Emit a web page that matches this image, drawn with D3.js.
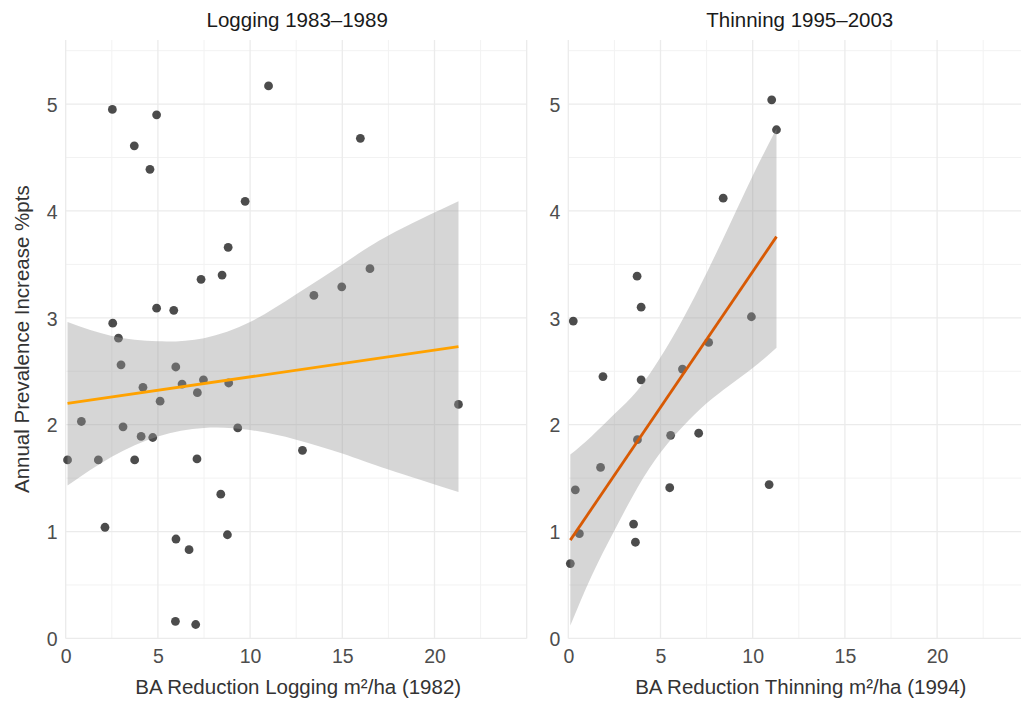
<!DOCTYPE html>
<html>
<head>
<meta charset="utf-8">
<script src="https://cdn.jsdelivr.net/npm/d3@7"></script>
<style>
  body { margin: 0; background: #fff; font-family: "Liberation Sans", Arial, sans-serif; }
</style>
</head>
<body>
<svg id="chart" width="1021" height="701"></svg>
<script>
// logging panel (1983-1989)
const loggingX = [2.53, 4.93, 3.72, 4.57, 11.0, 15.98, 9.73, 8.81, 7.34, 8.48,
    16.5, 13.46, 14.97, 4.93, 5.86, 2.55, 2.86, 3.0, 5.97, 4.19,
    6.31, 7.47, 8.84, 7.14, 5.12, 21.3, 0.85, 3.11, 9.33, 4.09,
    4.72, 0.1, 1.77, 3.74, 7.12, 12.84, 8.41, 2.13, 5.98, 8.77,
    6.69, 5.95, 7.05];
const loggingY = [4.95, 4.90, 4.61, 4.39, 5.17, 4.68, 4.09, 3.66, 3.36, 3.40,
    3.46, 3.21, 3.29, 3.09, 3.07, 2.95, 2.81, 2.56, 2.54, 2.35,
    2.38, 2.42, 2.39, 2.30, 2.22, 2.19, 2.03, 1.98, 1.97, 1.89,
    1.88, 1.67, 1.67, 1.67, 1.68, 1.76, 1.35, 1.04, 0.93, 0.97,
    0.83, 0.16, 0.13];
// fitted line and 95% band
const loggingFitX = [0.1, 21.3];
const loggingFitY = [2.20, 2.73];
const loggingBandX = [0.1, 2.5, 5, 7.5, 10, 12.5, 15, 17.5, 21.3];
const loggingBandLo = [1.43, 1.70, 1.89, 1.97, 1.95, 1.86, 1.73, 1.58, 1.37];
const loggingBandHi = [2.96, 2.83, 2.78, 2.81, 2.96, 3.22, 3.50, 3.77, 4.09];

// thinning panel (1995-2003)
const thinningX = [11.03, 11.29, 8.40, 3.73, 3.95, 0.27, 9.93, 7.61, 1.88, 3.95,
    6.19, 3.75, 5.55, 7.07, 1.75, 0.38, 5.50, 10.89, 3.54, 3.64,
    0.60, 0.11];
const thinningY = [5.04, 4.76, 4.12, 3.39, 3.10, 2.97, 3.01, 2.77, 2.45, 2.42,
    2.52, 1.86, 1.90, 1.92, 1.60, 1.39, 1.41, 1.44, 1.07, 0.90,
    0.98, 0.70];
const thinningFitX = [0.11, 11.29];
const thinningFitY = [0.92, 3.76];
const thinningBandX = [0.11, 1.25, 2.5, 3.75, 5, 6.25, 7.5, 8.75, 10, 11.29];
const thinningBandLo = [0.12, 0.58, 1.01, 1.41, 1.74, 1.99, 2.20, 2.37, 2.53, 2.72];
const thinningBandHi = [1.72, 1.89, 2.10, 2.32, 2.63, 3.00, 3.42, 3.87, 4.33, 4.77];

const xTicks = [0, 5, 10, 15, 20];
const yTicks = [0, 1, 2, 3, 4, 5];

const panels = [
    { title: "Logging 1983\u20131989", xlab: "BA Reduction Logging m\u00b2/ha (1982)",
      xs: loggingX, ys: loggingY, fitX: loggingFitX, fitY: loggingFitY,
      bandX: loggingBandX, bandLo: loggingBandLo, bandHi: loggingBandHi,
      color: "#FFA200", left: 65.7 },
    { title: "Thinning 1995\u20132003", xlab: "BA Reduction Thinning m\u00b2/ha (1994)",
      xs: thinningX, ys: thinningY, fitX: thinningFitX, fitY: thinningFitY,
      bandX: thinningBandX, bandLo: thinningBandLo, bandHi: thinningBandHi,
      color: "#D85A04", left: 568.3 }
];

const plotTop = 40, plotBottom = 638.4, panelW = 461;
const fontFam = "Liberation Sans, Arial, sans-serif";

const svg = d3.select("#chart");

const y = d3.scaleLinear().domain([0, 5.6]).range([plotBottom, plotTop]);

panels.forEach(p => {
    const x = d3.scaleLinear().domain([0, 25]).range([p.left, p.left + panelW]);
    const g = svg.append("g");

    // grid - minor then major
    const minorX = d3.range(2.5, 25, 5), minorY = d3.range(0.5, 5.6, 1);
    g.selectAll(".mx").data(minorX).enter().append("line")
        .attr("x1", d => x(d)).attr("x2", d => x(d)).attr("y1", plotTop).attr("y2", plotBottom)
        .attr("stroke", "#f2f2f2").attr("stroke-width", 1);
    g.selectAll(".my").data(minorY).enter().append("line")
        .attr("x1", p.left).attr("x2", p.left + panelW).attr("y1", d => y(d)).attr("y2", d => y(d))
        .attr("stroke", "#f2f2f2").attr("stroke-width", 1);
    g.selectAll(".gx").data(xTicks.concat([25])).enter().append("line")
        .attr("x1", d => x(d)).attr("x2", d => x(d)).attr("y1", plotTop).attr("y2", plotBottom)
        .attr("stroke", "#ebebeb").attr("stroke-width", 1.3);
    g.selectAll(".gy").data(yTicks).enter().append("line")
        .attr("x1", p.left).attr("x2", p.left + panelW).attr("y1", d => y(d)).attr("y2", d => y(d))
        .attr("stroke", "#ebebeb").attr("stroke-width", 1.3);

    // points
    g.selectAll(".pt").data(p.xs.map((v, i) => [v, p.ys[i]])).enter().append("circle")
        .attr("cx", d => x(d[0])).attr("cy", d => y(d[1])).attr("r", 4.4)
        .attr("fill", "#000").attr("fill-opacity", 0.7);

    // confidence band drawn over the points, then the fitted line
    const band = p.bandX.map((v, i) => ({ x: v, lo: p.bandLo[i], hi: p.bandHi[i] }));
    g.append("path").datum(band)
        .attr("d", d3.area().curve(d3.curveNatural)
            .x(d => x(d.x)).y0(d => y(d.lo)).y1(d => y(d.hi)))
        .attr("fill", "#999").attr("fill-opacity", 0.4);
    g.append("path").datum(p.fitX.map((v, i) => [v, p.fitY[i]]))
        .attr("d", d3.line().x(d => x(d[0])).y(d => y(d[1])))
        .attr("fill", "none").attr("stroke", p.color).attr("stroke-width", 2.8);

    // axes (text only, like theme_minimal)
    const xAxis = g.append("g").attr("transform", `translate(0,${plotBottom})`)
        .call(d3.axisBottom(x).tickValues(xTicks).tickFormat(d3.format("d"))
            .tickSize(0).tickPadding(11));
    xAxis.select(".domain").remove();
    xAxis.selectAll("text").attr("font-size", 19.5).attr("fill", "#4d4d4d")
        .attr("font-family", fontFam);

    const yAxis = g.append("g").attr("transform", `translate(${p.left - 6},1)`)
        .call(d3.axisLeft(y).tickValues(yTicks).tickFormat(d3.format("d"))
            .tickSize(0).tickPadding(2));
    yAxis.select(".domain").remove();
    yAxis.selectAll("text").attr("font-size", 19.5).attr("fill", "#4d4d4d")
        .attr("font-family", fontFam);

    // titles
    g.append("text").attr("x", p.left + panelW / 2 + 1).attr("y", 27)
        .attr("text-anchor", "middle").attr("font-size", 20.5).attr("fill", "#1a1a1a")
        .attr("font-family", fontFam)
        .text(p.title);
    g.append("text").attr("x", p.left + panelW / 2 + 2).attr("y", 694)
        .attr("text-anchor", "middle").attr("font-size", 20.5).attr("fill", "#333")
        .attr("font-family", fontFam)
        .text(p.xlab);
});

svg.append("text")
    .attr("transform", `translate(29,${(plotTop + plotBottom) / 2}) rotate(-90)`)
    .attr("text-anchor", "middle").attr("font-size", 20.5).attr("fill", "#333")
    .attr("font-family", fontFam)
    .text("Annual Prevalence Increase %pts");
</script>
</body>
</html>
